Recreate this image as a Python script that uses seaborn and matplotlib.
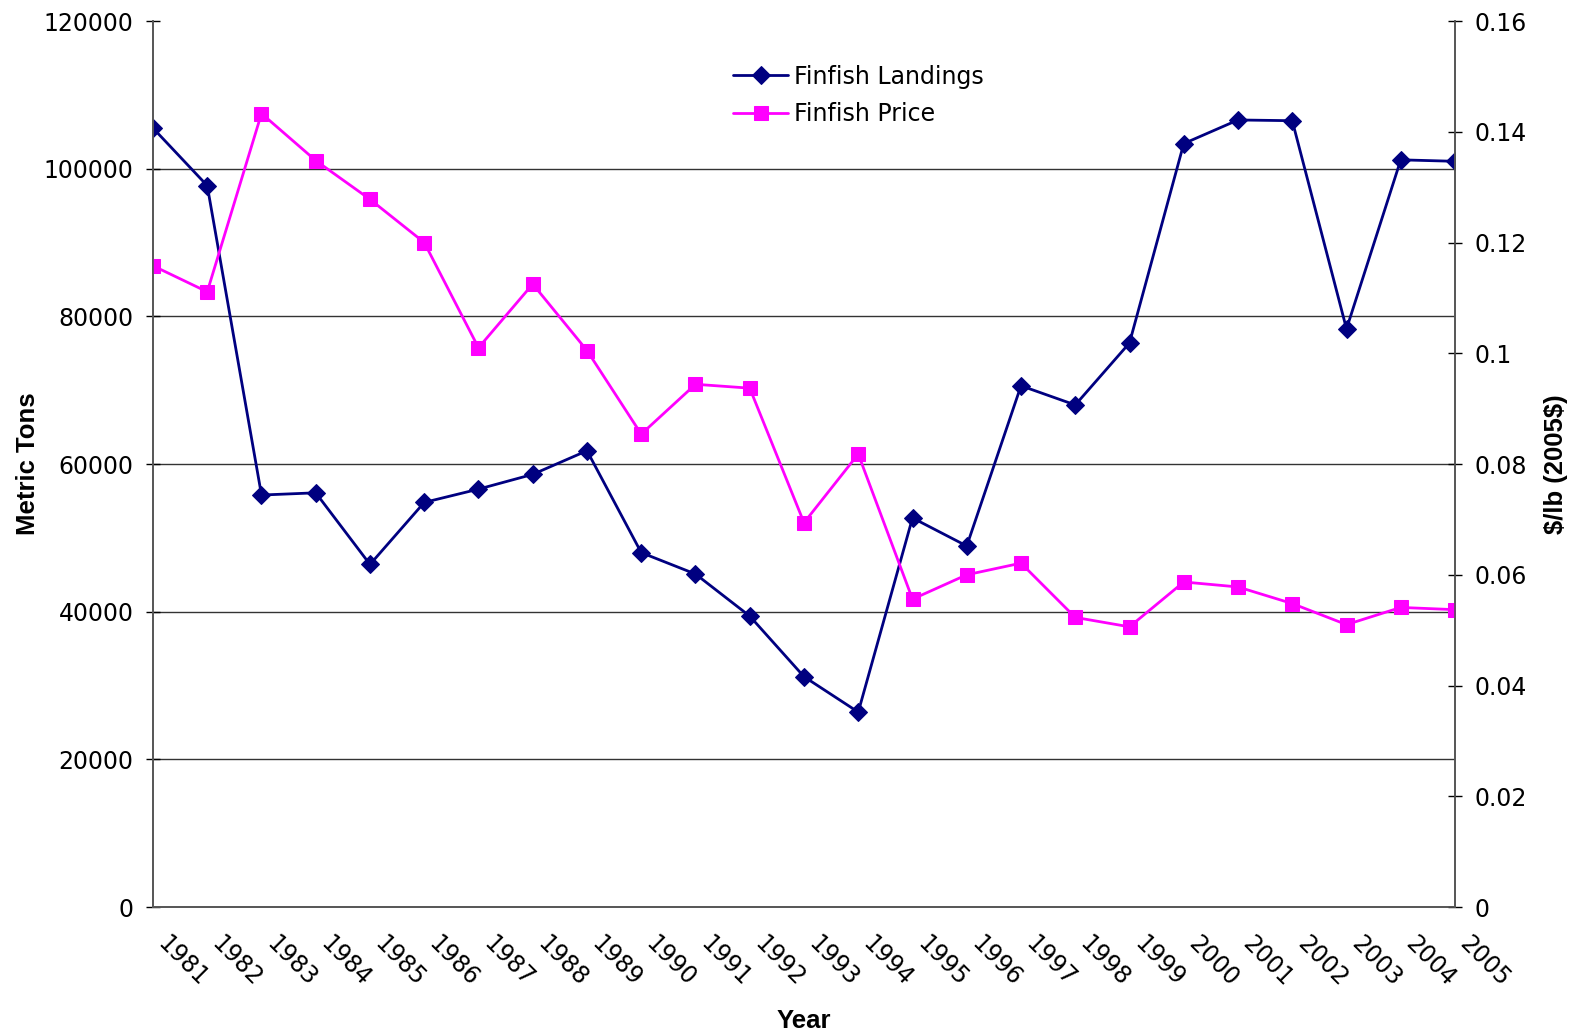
import numpy as np
import pandas as pd
import matplotlib
matplotlib.use('Agg')
import matplotlib.pyplot as plt
import seaborn as sns

years = list(range(1981, 2006))
landings = [105500, 97700, 55800, 56100, 46400, 54800, 56600, 58600, 61800, 48000,
            45100, 39400, 31200, 26400, 52700, 48900, 70600, 68000, 76400, 103400,
            106600, 106500, 78300, 101200, 101000]
price = [0.1158, 0.1111, 0.1433, 0.1348, 0.1278, 0.1200, 0.1010, 0.1125, 0.1005, 0.0854,
         0.0944, 0.0937, 0.0694, 0.0818, 0.0556, 0.0600, 0.0621, 0.0523, 0.0506, 0.0587,
         0.0578, 0.0548, 0.0510, 0.0541, 0.0537]
left_ticks = [0, 20000, 40000, 60000, 80000, 100000, 120000]
right_ticks = [0, 0.02, 0.04, 0.06, 0.08, 0.1, 0.12, 0.14, 0.16]
right_labels = ['0', '0.02', '0.04', '0.06', '0.08', '0.1', '0.12', '0.14', '0.16']

NAVY = '#000080'
MAGENTA = '#FF00FF'


def main():
    sns.set_style('white')
    plt.rcParams['font.family'] = ['DejaVu Sans']
    plt.rcParams['text.color'] = 'black'
    plt.rcParams['xtick.color'] = 'black'
    plt.rcParams['ytick.color'] = 'black'
    plt.rcParams['axes.labelcolor'] = 'black'
    label_font = ['Liberation Sans Narrow', 'Liberation Sans', 'DejaVu Sans']

    df = pd.DataFrame({'Year': years, 'Landings': landings, 'Price': price})

    fig = plt.figure(figsize=(15.74, 10.36), dpi=100)
    ax = fig.add_axes([0.0972, 0.1245, 0.8272, 0.8552])
    ax2 = ax.twinx()

    sns.lineplot(data=df, x='Year', y='Landings', ax=ax, color=NAVY, marker='D',
                 markersize=9, linewidth=2, markeredgecolor=NAVY, label='Finfish Landings',
                 legend=False)
    sns.lineplot(data=df, x='Year', y='Price', ax=ax2, color=MAGENTA, marker='s',
                 markersize=10.5, linewidth=2, markeredgecolor=MAGENTA, label='Finfish Price',
                 legend=False)

    ax.set_xlim(1981, 2005)
    ax.set_ylim(0, 120000)
    ax2.set_ylim(0, 0.16)
    ax.set_yticks(left_ticks)
    ax.set_yticklabels([str(t) for t in left_ticks])
    ax2.set_yticks(right_ticks)
    ax2.set_yticklabels(right_labels)
    ax.set_xticks(years)
    ax.set_xticklabels([str(y) for y in years], rotation=-45, ha='left', va='bottom',
                       rotation_mode='anchor')

    for a in (ax, ax2):
        a.spines['top'].set_visible(False)
        for s in a.spines.values():
            s.set_color('#555555')
            s.set_linewidth(1.2)
    ax.grid(False)
    ax2.grid(False)
    for t in [20000, 40000, 60000, 80000, 100000]:
        ax.axhline(t, color='#333333', linewidth=1, zorder=0)

    ax.tick_params(axis='y', direction='inout', length=10, width=1, labelsize=17, pad=9)
    ax2.tick_params(axis='y', direction='inout', length=10, width=1, labelsize=17, pad=9)
    ax.tick_params(axis='x', direction='out', length=6, width=1, labelsize=17, pad=24)

    ax.set_xlabel('Year', fontsize=18.5, fontweight='bold', family=label_font, labelpad=13)
    ax.set_ylabel('Metric Tons', fontsize=18.5, fontweight='bold', family=label_font, labelpad=3)
    ax2.set_ylabel('\\$/lb (2005\\$)', fontsize=18.5, fontweight='bold', family=label_font,
                   labelpad=12)

    h1, l1 = ax.get_legend_handles_labels()
    h2, l2 = ax2.get_legend_handles_labels()
    fig.legend(h1 + h2, l1 + l2, loc='upper left', bbox_to_anchor=(0.4585, 0.949),
               frameon=False, fontsize=17, handlelength=2.3, handletextpad=0.25,
               borderpad=0, labelspacing=0.57)

    fig.savefig('out.png', dpi=100)


if __name__ == '__main__':
    main()
